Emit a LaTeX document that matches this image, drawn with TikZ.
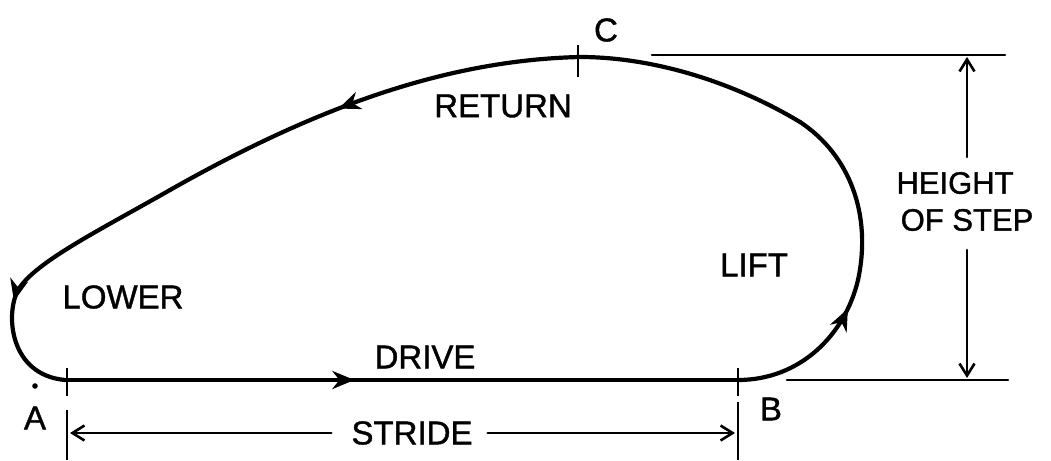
\documentclass[tikz,border=0pt]{standalone}
\usepackage{fontspec}
\setmainfont{Liberation Sans}
\newfontfamily\hand[FakeBold=1.2]{Liberation Sans}
\usetikzlibrary{arrows.meta,decorations.markings}
\begin{document}
\begin{tikzpicture}[x=1pt,y=-1pt,
  curve/.style={line width=4.2pt,line cap=round,line join=round},
  thin line/.style={line width=2.6pt,line cap=round},
  tick/.style={line width=2.2pt},
  lbl/.style={font=\hand\fontsize{33}{38}\selectfont,inner sep=0pt},
  midarrow/.style={postaction={decorate,decoration={markings,
      mark=at position #1 with {\arrow{Stealth[length=22pt,width=18pt,inset=7pt]}}}}},
  dimtip/.style={-{Straight Barb[length=12pt,width=15pt,line width=2.6pt]}}]
\useasboundingbox (0,0) rectangle (1051,460);
% key points
\coordinate (A) at (65,380);
\coordinate (B) at (738,380);
\coordinate (C) at (580,57);
\coordinate (P1) at (858,280);
\coordinate (P2) at (800,122);
\coordinate (P3) at (170,190);
\coordinate (P4) at (18,290);
% drive
\draw[curve,midarrow=0.43] (A) -- (B);
% lift
\draw[curve,midarrow=0.82] (B) .. controls (800,380) and (845,335) .. (P1);
\draw[curve] (P1) .. controls (872,215) and (850,155) .. (P2);
\draw[curve] (P2) .. controls (730,80) and (650,57) .. (C);
% return
\draw[curve,midarrow=0.57] (C) .. controls (450,60) and (320,105) .. (P3);
\draw[curve] (P3) .. controls (100,230) and (35,262) .. (P4);
% lower
\draw[curve,midarrow=0.1] (P4) .. controls (5,315) and (10,375) .. (A);
% ticks
\draw[tick] (578,45) -- (578,77);
\draw[tick] (67,368) -- (67,396);
\draw[tick] (738,368) -- (738,396);
\coordinate (Ae) at (67,410); \coordinate (Ae2) at (67,460);
\coordinate (Be) at (738,402); \coordinate (Be2) at (738,460);
\draw[tick] (Ae) -- (Ae2);
\draw[tick] (Be) -- (Be2);
% stride
\node[lbl] (stride) at (412,433) {STRIDE};
\coordinate (sl) at (70,433); \coordinate (sr) at (735,433);
\draw[thin line,dimtip] (stride.west) ++(-20,0) -- (sl);
\draw[thin line,dimtip] (stride.east) ++(15,0) -- (sr);
% height
\coordinate (Ht1) at (652,55); \coordinate (Ht2) at (1005,55);
\coordinate (Hb1) at (787,380); \coordinate (Hb2) at (1008,380);
\draw[thin line] (Ht1) -- (Ht2);
\draw[thin line] (Hb1) -- (Hb2);
\node[lbl,font=\hand\fontsize{31}{36}\selectfont] (height) at (955,183) {HEIGHT};
\node[lbl,font=\hand\fontsize{31}{36}\selectfont] (ofstep) at (967,220) {OF STEP};
\coordinate (vt) at (967,57); \coordinate (vb) at (967,378);
\draw[thin line,dimtip] (967,157) -- (vt);
\draw[thin line,dimtip] (967,250) -- (vb);
% labels
\node[lbl] (lC) at (606,30) {C};
\node[lbl] (lA) at (35,418) {A};
\fill (35,386) circle (2.8);
\node[lbl] (lB) at (771,409) {B};
\node[lbl] (lret) at (503,106) {RETURN};
\node[lbl] (llow) at (123,297) {LOWER};
\node[lbl] (ldrive) at (425,357) {DRIVE};
\node[lbl] (llift) at (754,265) {LIFT};
\end{tikzpicture}
\end{document}
